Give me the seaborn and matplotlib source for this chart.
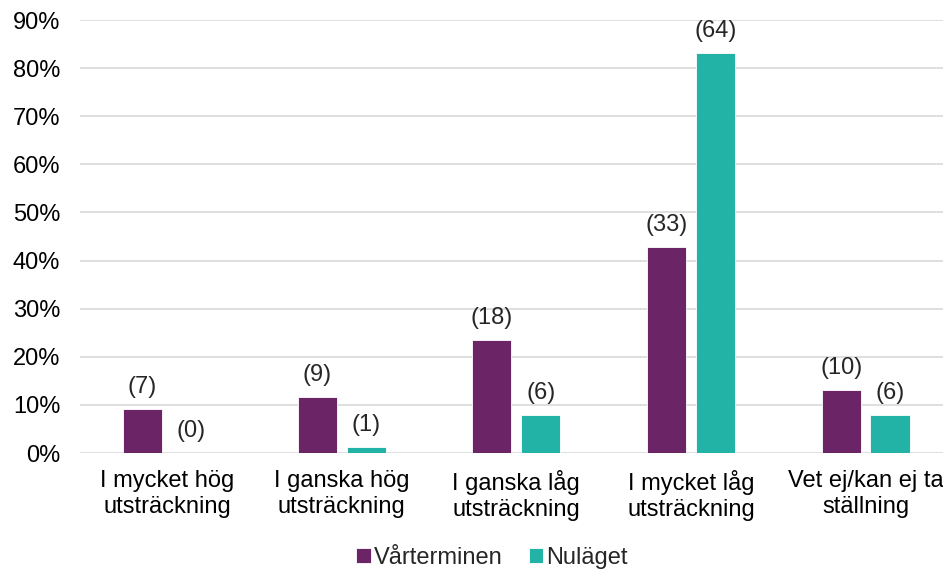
import pandas as pd
import matplotlib.pyplot as plt
import seaborn as sns

# ── DATA ─────────────────────────────────────────────────────────────────────
kategorier = ["I mycket hög\nutsträckning", "I ganska hög\nutsträckning",
              "I ganska låg\nutsträckning", "I mycket låg\nutsträckning",
              "Vet ej/kan ej ta\nställning"]
serier = ["Vårterminen", "Nuläget"]
varterminen_pct = [9.1, 11.7, 23.4, 42.9, 13.0]
nulaget_pct = [0.0, 1.3, 7.8, 83.1, 7.8]
varterminen_n = [7, 9, 18, 33, 10]
nulaget_n = [0, 1, 6, 64, 6]

df = pd.DataFrame({
    "Kategori": kategorier * 2,
    "Serie": [serier[0]] * 5 + [serier[1]] * 5,
    "Andel": varterminen_pct + nulaget_pct,
    "Antal": varterminen_n + nulaget_n,
})

# ── PLOT ─────────────────────────────────────────────────────────────────────
sns.set_style("white")
plt.rcParams["font.family"] = ["Liberation Sans", "DejaVu Sans"]
FS = 17

fig = plt.figure(figsize=(9.43, 5.72), dpi=100)
ax = fig.add_axes([0.0845, 0.208, 0.926, 0.757])

farger = {"Vårterminen": "#6B2567", "Nuläget": "#23B2A6"}
sns.barplot(data=df, x="Kategori", y="Andel", hue="Serie", palette=farger,
            saturation=1, width=0.56, gap=0.2, edgecolor="white",
            linewidth=0.6, ax=ax)

for cont, antal in zip(ax.containers, [varterminen_n, nulaget_n]):
    ax.bar_label(cont, labels=[f"({n})" for n in antal], padding=8, fontsize=FS)

ax.set_ylim(0, 90)
ax.set_yticks(range(0, 91, 10))
ax.set_yticklabels([f"{v}%" for v in range(0, 91, 10)])
ax.set_xlim(-0.5, 4.5)
ax.grid(axis="y", color="#D9D9D9", linewidth=1.2)
ax.set_axisbelow(True)
for s in ax.spines.values():
    s.set_visible(False)
ax.tick_params(axis="both", length=0, labelsize=FS, colors="black")
ax.tick_params(axis="x", pad=12)
ax.tick_params(axis="y", pad=14)
ax.set_xlabel("")
ax.set_ylabel("")
for t in ax.get_xticklabels():
    t.set_linespacing(1.25)

handles, labels = ax.get_legend_handles_labels()
ax.get_legend().remove()
fig.legend(handles, labels, loc="center", bbox_to_anchor=(0.522, 0.025), ncol=2,
           frameon=False, fontsize=FS, handlelength=0.6, handleheight=0.6,
           handletextpad=0.15, columnspacing=1.1, borderpad=0)

fig.savefig("out.png", dpi=100)
